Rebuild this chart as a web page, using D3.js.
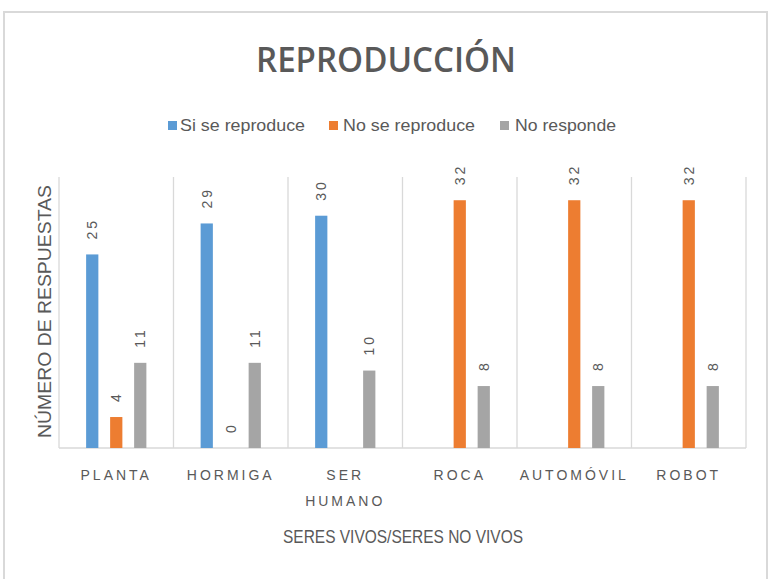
<!DOCTYPE html>
<html>
<head>
<meta charset="utf-8">
<script src="https://cdn.jsdelivr.net/npm/d3@7"></script>
<style>
html,body{margin:0;padding:0;background:#fff;}
svg{display:block;}
</style>
</head>
<body>
<svg id="chart" width="769" height="579"></svg>
<script>
const categories = ["PLANTA", "HORMIGA", "SER HUMANO", "ROCA", "AUTOMÓVIL", "ROBOT"];
const seriesNames = ["Si se reproduce", "No se reproduce", "No responde"];
const siSeReproduce = [25, 29, 30, null, null, null];
const noSeReproduce = [4, 0, null, 32, 32, 32];
const noResponde = [11, 11, 10, 8, 8, 8];
const seriesColors = ["#5B9BD5", "#ED7D31", "#A5A5A5"];
const titleText = "REPRODUCCIÓN";
const yTitle = "NÚMERO DE RESPUESTAS";
const xTitle = "SERES VIVOS/SERES NO VIVOS";

const seriesValues = [siSeReproduce, noSeReproduce, noResponde];
const svg = d3.select("#chart");
const textColor = "#595959";
const gridColor = "#d9d9d9";

// frame
svg.append("rect").attr("x", 4).attr("y", 12).attr("width", 763).attr("height", 620)
  .attr("fill", "#fff").attr("stroke", gridColor).attr("stroke-width", 2);

const plot = {left: 59, right: 746, top: 177, bottom: 448};

const x0 = d3.scaleBand().domain(categories).range([plot.left, plot.right]).padding(0);
const x1 = d3.scaleBand().domain(seriesNames).range([0, x0.bandwidth()])
  .paddingInner(0.49).paddingOuter(1.13);
const y = d3.scaleLinear().domain([0, 35]).range([plot.bottom, plot.top]);

// vertical category separators
const sepX = categories.map(c => x0(c)).concat([plot.right]);
svg.append("g").selectAll("line").data(sepX).join("line")
  .attr("x1", d => d).attr("x2", d => d)
  .attr("y1", plot.top).attr("y2", plot.bottom)
  .attr("stroke", gridColor).attr("stroke-width", 1.3);

// baseline
svg.append("line").attr("x1", plot.left).attr("x2", plot.right)
  .attr("y1", plot.bottom).attr("y2", plot.bottom)
  .attr("stroke", gridColor).attr("stroke-width", 1.5);

// bars
const flat = [];
categories.forEach((c, i) => {
  seriesNames.forEach((s, j) => {
    const v = seriesValues[j][i];
    if (v !== null) flat.push({c, s, v, j});
  });
});

svg.append("g").selectAll("rect").data(flat).join("rect")
  .attr("x", d => x0(d.c) + x1(d.s))
  .attr("width", x1.bandwidth())
  .attr("y", d => y(d.v))
  .attr("height", d => y(0) - y(d.v))
  .attr("fill", d => seriesColors[d.j]);

// data labels (rotated)
svg.append("g").selectAll("text").data(flat).join("text")
  .attr("transform", d => {
    const cx = x0(d.c) + x1(d.s) + x1.bandwidth() / 2;
    const ty = y(d.v) - 15;
    return `translate(${cx},${ty}) rotate(-90)`;
  })
  .attr("dy", "0.35em")
  .attr("text-anchor", "start")
  .attr("font-family", "Liberation Sans, Arial, sans-serif")
  .attr("font-size", 14)
  .attr("letter-spacing", 3)
  .attr("fill", textColor)
  .text(d => d.v);

// title
svg.append("text").attr("x", 386).attr("y", 72).attr("text-anchor", "middle")
  .attr("font-family", "Open Sans, sans-serif").attr("font-weight", 600)
  .attr("font-size", 34).attr("fill", textColor)
  .attr("textLength", 260).attr("lengthAdjust", "spacingAndGlyphs")
  .text(titleText);

// legend
const legendX = [168, 329, 500];
const legendTextX = [180, 343, 515];
const legendW = [125, 132, 101];
const lg = svg.append("g");
seriesNames.forEach((s, i) => {
  lg.append("rect").attr("x", legendX[i]).attr("y", 121).attr("width", 9).attr("height", 9)
    .attr("fill", seriesColors[i]);
  lg.append("text").attr("x", legendTextX[i]).attr("y", 131)
    .attr("font-family", "Liberation Sans Narrow, Liberation Sans, Arial, sans-serif")
    .attr("font-size", 17).attr("fill", textColor)
    .attr("textLength", legendW[i]).attr("lengthAdjust", "spacingAndGlyphs")
    .text(s);
});

// x axis tick labels
const xAxis = d3.axisBottom(x0).tickSize(0).tickPadding(0);
const xg = svg.append("g").attr("transform", `translate(0,${plot.bottom})`).call(xAxis);
xg.select(".domain").remove();
xg.selectAll(".tick text").each(function(d) {
  const t = d3.select(this);
  t.text(null).attr("y", 0).attr("dy", 0)
    .attr("font-family", "Liberation Sans, Arial, sans-serif")
    .attr("font-size", 14).attr("fill", textColor).attr("letter-spacing", 3);
  const words = d === "SER HUMANO" ? ["SER", "HUMANO"] : [d];
  words.forEach((w, k) => {
    t.append("tspan").attr("x", 0).attr("y", 32 + k * 26).text(w);
  });
});

// axis titles
svg.append("text")
  .attr("transform", `translate(51,${(185 + 438) / 2}) rotate(-90)`)
  .attr("text-anchor", "middle")
  .attr("font-family", "Liberation Sans, Arial, sans-serif")
  .attr("font-size", 18).attr("fill", textColor)
  .attr("textLength", 253).attr("lengthAdjust", "spacingAndGlyphs")
  .text(yTitle);

svg.append("text").attr("x", 403).attr("y", 543).attr("text-anchor", "middle")
  .attr("font-family", "Liberation Sans Narrow, Liberation Sans, Arial, sans-serif")
  .attr("font-size", 18).attr("fill", textColor)
  .attr("textLength", 240).attr("lengthAdjust", "spacingAndGlyphs")
  .text(xTitle);
</script>
</body>
</html>
